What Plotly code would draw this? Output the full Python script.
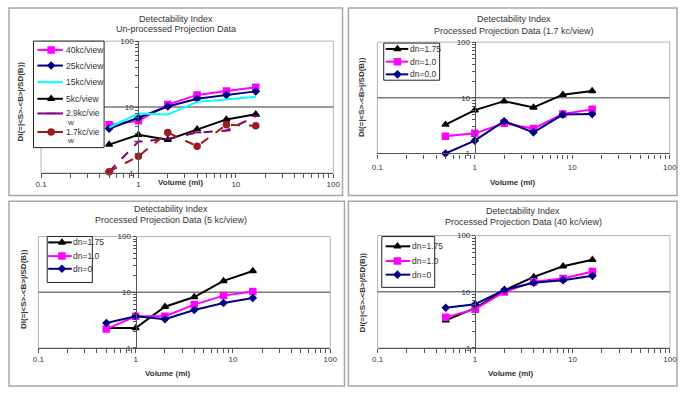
import plotly.graph_objects as go

W, H = 687, 393

# ---------------------------------------------------------------- data
volume = [0.5, 1, 2, 4, 8, 16]

# Un-processed projection data, one series per count level
kc40 = [5.4, 6.2, 10.9, 15.3, 17.5, 20.0]
kc25 = [4.7, 6.9, 10.2, 13.4, 15.2, 17.3]
kc15 = [4.9, 8.0, 7.7, 12.0, 13.0, 14.3]
kc5 = [2.7, 3.8, 3.2, 4.6, 6.5, 7.8]
kc2_9 = [1.05, 3.0, 3.3, 4.1, 4.4, 7.3]
kc1_7 = [1.05, 1.8, 4.1, 2.55, 5.4, 5.2]

# Processed projection data (1.7 kc/view)
p17_dn175 = [3.3, 6.0, 8.7, 6.7, 11.4, 13.3]
p17_dn10 = [2.05, 2.3, 3.5, 2.8, 5.1, 6.2]
p17_dn00 = [1.0, 1.7, 3.8, 2.4, 5.0, 5.1]

# Processed projection data (5 kc/view)
p5_dn175 = [2.27, 2.27, 5.5, 8.2, 16.0, 24.0]
p5_dn10 = [2.18, 3.7, 3.7, 6.0, 8.7, 10.3]
p5_dn0 = [2.8, 3.7, 3.27, 4.8, 6.4, 7.9]

# Processed projection data (40 kc/view)
p40_dn175 = [3.1, 5.1, 10.6, 18.4, 28.5, 37.0]
p40_dn10 = [3.5, 4.9, 9.9, 15.1, 17.2, 23.0]
p40_dn0 = [5.2, 6.0, 10.8, 14.5, 16.1, 19.2]

x_tickvals = [0.1, 1, 10, 100]
x_ticktext = ["0.1", "1", "10", "100"]
y_tickvals = [1, 10, 100]
y_ticktext = ["1", "10", "100"]

chart_title = "Detectability Index"
x_title = "Volume (ml)"
y_title = "DI(=|&lt;S&gt;-&lt;B&gt;|/SD(B))"

# ---------------------------------------------------------------- style
FONT = "Liberation Sans, Arial, sans-serif"
TXT = "#333333"
AX = "#555555"
MAGENTA, NAVY, CYAN, BLACK = "#ff00ff", "#000080", "#00ffff", "#000000"
PURPLE, DARKRED = "#800080", "#9b1c1c"

# unlabeled intermediate ticks on the log axes
x_minor = [m * d for d in (0.1, 1, 10) for m in range(2, 10)]
y_minor = [m * d for d in (1, 10) for m in range(2, 10)]
x_all_vals = x_tickvals + x_minor
x_all_text = x_ticktext + [""] * len(x_minor)
y_all_vals = y_tickvals + y_minor
y_all_text = y_ticktext + [""] * len(y_minor)

def S(name, values, color, symbol, size, dash="solid"):
    return dict(name=name, values=values, color=color, symbol=symbol,
                size=size, dash=dash)

panels = [
    dict(subtitle="Un-processed Projection Data",
         x_lo=35.7, x_hi=333.6, y_top=38, y_bot=173, standoff=0,
         title_x=173, title_y=(15, 26), xt=(178, 183), yt=(15, 100),
         frame=(3, 4, 343, 196),
         legend=dict(box=(28, 38, 100, 147), sw=(32, 58), mk=46, tx=60,
                     rows=[47, 63, 80, 97, 112, 131]),
         series=[S("40kc/view", kc40, MAGENTA, "square", 6),
                 S("25kc/view", kc25, NAVY, "diamond", 5),
                 S("15kc/view", kc15, CYAN, None, 0),
                 S("5kc/view", kc5, BLACK, "triangle-up", 6),
                 S("2.9kc/vie|w", kc2_9, PURPLE, "line-ew-open", 6, "dash"),
                 S("1.7kc/vie|w", kc1_7, DARKRED, "circle", 6, "dash")]),
    dict(subtitle="Processed Projection Data (1.7 kc/view)",
         x_lo=378.5, x_hi=676.5, y_top=39, y_bot=153, standoff=3,
         title_x=518, title_y=(15, 28), xt=(517, 183), yt=(363, 95),
         frame=(349, 4, 684, 196),
         legend=dict(box=(385, 40, 442, 78), sw=(387, 410), mk=399, tx=411,
                     rows=[46, 59, 72]),
         series=[S("dn=1.75", p17_dn175, BLACK, "triangle-up", 6),
                 S("dn=1.0", p17_dn10, MAGENTA, "square", 6),
                 S("dn=0.0", p17_dn00, NAVY, "diamond", 5)]),
    dict(subtitle="Processed Projection Data (5 kc/view)",
         x_lo=33, x_hi=330.5, y_top=238, y_bot=352, standoff=0,
         title_x=168, title_y=(210, 221), xt=(165, 378), yt=(18, 292),
         frame=(3, 202, 345, 391),
         legend=dict(box=(42, 238, 88, 285), sw=(43, 67), mk=57, tx=67,
                     rows=[244, 258, 271]),
         series=[S("dn=1.75", p5_dn175, BLACK, "triangle-up", 6),
                 S("dn=1.0", p5_dn10, MAGENTA, "square", 6),
                 S("dn=0", p5_dn0, NAVY, "diamond", 5)]),
    dict(subtitle="Processed Projection Data (40 kc/view)",
         x_lo=378.8, x_hi=676.8, y_top=237, y_bot=352, standoff=0,
         title_x=527, title_y=(212, 223), xt=(515, 378), yt=(363, 295),
         frame=(349, 202, 684, 391),
         legend=dict(box=(383, 238, 437, 290), sw=(387, 412), mk=399, tx=413,
                     rows=[248, 263, 277]),
         series=[S("dn=1.75", p40_dn175, BLACK, "triangle-up", 6),
                 S("dn=1.0", p40_dn10, MAGENTA, "square", 6),
                 S("dn=0", p40_dn0, NAVY, "diamond", 5)]),
]

def fx(px):
    return px / W

def fy(py):
    return 1 - py / H

fig = go.Figure()
layout = {}
shapes_grid, shapes_box = [], []
annotations = []

def add_text(text, px, py, size, xanchor="center", angle=0):
    annotations.append(dict(text=text, x=fx(px), y=fy(py), xref="paper",
                            yref="paper", showarrow=False, textangle=angle,
                            xanchor=xanchor, yanchor="middle", borderpad=0,
                            font=dict(family=FONT, size=size, color=TXT)))

for i, p in enumerate(panels, start=1):
    s = "" if i == 1 else str(i)
    x_one = p["x_lo"] + (p["x_hi"] - p["x_lo"]) / 3.0

    layout["xaxis" + s] = dict(
        type="log", range=[-1, 2], domain=[fx(p["x_lo"]), fx(p["x_hi"])],
        anchor="y" + s, showline=True, linecolor=AX, linewidth=1.3,
        ticks="outside", ticklen=4, tickcolor=AX, tickwidth=1,
        tickmode="array", tickvals=x_all_vals, ticktext=x_all_text,
        tickfont=dict(family=FONT, size=8, color=TXT),
        ticklabelstandoff=p["standoff"] - 1,
        showgrid=False, zeroline=False, fixedrange=True)
    layout["yaxis" + s] = dict(
        type="log", range=[0, 2], domain=[fy(p["y_bot"]), fy(p["y_top"])],
        anchor="free", position=fx(x_one), showline=True, linecolor=AX,
        linewidth=1.3, ticks="outside", ticklen=3, tickcolor=AX, tickwidth=1,
        tickmode="array", tickvals=y_all_vals, ticktext=y_all_text,
        tickfont=dict(family=FONT, size=8, color=TXT),
        showgrid=False, zeroline=False, fixedrange=True)

    # plot-area border and the gridline at 10
    y_ten = (p["y_top"] + p["y_bot"]) / 2.0
    shapes_grid.append(dict(type="rect", xref="paper", yref="paper",
                            x0=fx(p["x_lo"]), x1=fx(p["x_hi"]),
                            y0=fy(p["y_bot"]), y1=fy(p["y_top"]),
                            line=dict(color="#b4b4b4", width=1), layer="below"))
    shapes_grid.append(dict(type="line", xref="paper", yref="paper",
                            x0=fx(p["x_lo"]), x1=fx(p["x_hi"]),
                            y0=fy(y_ten), y1=fy(y_ten),
                            line=dict(color="#7a7a7a", width=1.5), layer="below"))
    # chart frame
    fx0, fy0, fx1, fy1 = p["frame"]
    shapes_grid.append(dict(type="rect", xref="paper", yref="paper",
                            x0=fx(fx0), x1=fx(fx1), y0=fy(fy1), y1=fy(fy0),
                            line=dict(color="#a8a8a8", width=1.5), layer="below"))
    # legend box
    lg = p["legend"]
    bx0, by0, bx1, by1 = lg["box"]
    shapes_box.append(dict(type="rect", xref="paper", yref="paper",
                           x0=fx(bx0), x1=fx(bx1), y0=fy(by1), y1=fy(by0),
                           fillcolor="white", line=dict(color="#222222", width=1),
                           layer="below"))

    # titles
    add_text(chart_title, p["title_x"], p["title_y"][0], 9)
    add_text(p["subtitle"], p["title_x"], p["title_y"][1], 9)
    add_text("<b>%s</b>" % x_title, p["xt"][0], p["xt"][1], 8)
    add_text("<b>%s</b>" % y_title, p["yt"][0], p["yt"][1], 8, angle=-90)

    # data series
    for ser in p["series"]:
        mode = "lines+markers" if ser["symbol"] else "lines"
        fig.add_trace(go.Scatter(
            x=volume, y=ser["values"], mode=mode, xaxis="x" + s, yaxis="y" + s,
            line=dict(color=ser["color"], width=2, dash=ser["dash"]),
            marker=dict(symbol=ser["symbol"] or "circle", size=ser["size"],
                        color=ser["color"],
                        line=dict(color=ser["color"], width=1.5)),
            cliponaxis=False, showlegend=False, hoverinfo="skip"))

    # legend swatches and labels (pixel-space overlay axes)
    for ser, ry in zip(p["series"], lg["rows"]):
        fig.add_trace(go.Scatter(
            x=[lg["sw"][0], lg["sw"][1]], y=[ry, ry], mode="lines",
            xaxis="x5", yaxis="y5", line=dict(color=ser["color"], width=2),
            showlegend=False, hoverinfo="skip"))
        if ser["symbol"]:
            fig.add_trace(go.Scatter(
                x=[lg["mk"]], y=[ry], mode="markers", xaxis="x5", yaxis="y5",
                marker=dict(symbol=ser["symbol"], size=ser["size"],
                            color=ser["color"],
                            line=dict(color=ser["color"], width=1.5)),
                showlegend=False, hoverinfo="skip"))
        # the two lowest labels wrap inside the narrow legend box
        parts = ser["name"].split("|")
        add_text(parts[0], lg["tx"], ry, 8.5, xanchor="left")
        if len(parts) > 1:
            add_text(parts[1], lg["tx"] + 1, ry + 9, 8, xanchor="left")

layout["xaxis5"] = dict(domain=[0, 1], range=[0, W], visible=False,
                        fixedrange=True, anchor="y5")
layout["yaxis5"] = dict(domain=[0, 1], range=[H, 0], visible=False,
                        fixedrange=True, anchor="x5")

fig.update_layout(
    width=W, height=H, margin=dict(l=0, r=0, t=0, b=0),
    paper_bgcolor="white", plot_bgcolor="rgba(0,0,0,0)",
    shapes=shapes_grid + shapes_box, annotations=annotations,
    showlegend=False, **layout)

fig.write_html("out.html")
